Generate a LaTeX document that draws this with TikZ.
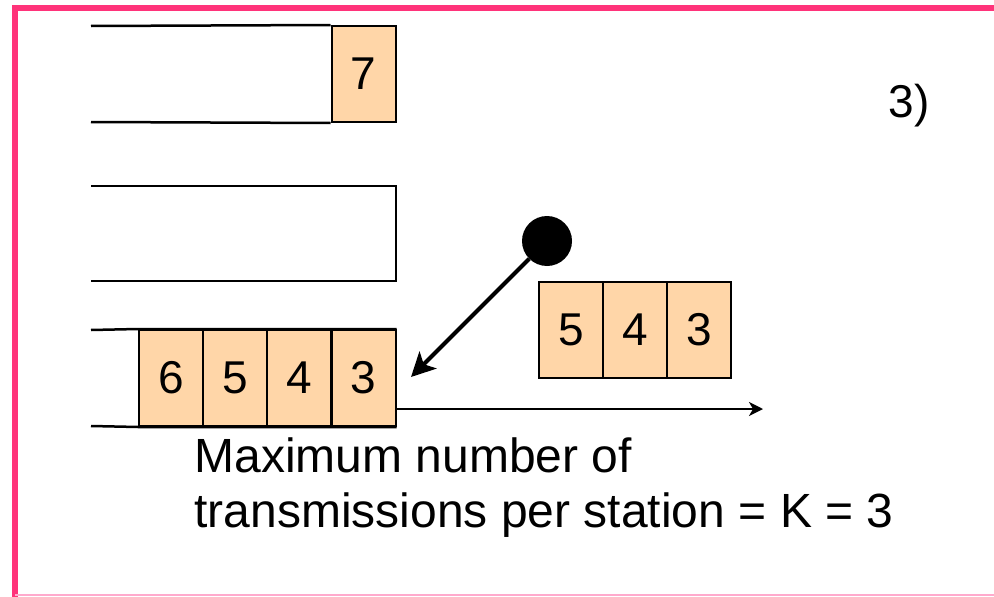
\documentclass[tikz,border=0pt]{standalone}
\usepackage{fontspec}
\setmainfont{Liberation Sans}
\usepackage{tikz}
\usetikzlibrary{arrows.meta}
\definecolor{framepink}{RGB}{255,51,122}
\definecolor{lightpink}{RGB}{255,170,205}
\definecolor{slotfill}{RGB}{255,214,168}

\begin{document}
\begin{tikzpicture}[x=1pt,y=-1pt,
  cell/.style={draw,fill=slotfill,line width=2pt,minimum width=64pt,minimum height=96pt,inner sep=0pt,font=\fontsize{46}{55}\selectfont},
  queue/.style={line width=2.5pt},
  big text/.style={font=\fontsize{48}{55}\selectfont}]

\useasboundingbox (0,0) rectangle (994,597);

% frame
\draw[framepink,line width=6pt] (15,600) -- (15,8) -- (1000,8);
\draw[lightpink,line width=2pt] (15,595) -- (994,595);

% first station: one packet waiting
\node at (363.5,74) [cell] (c7) {7};
\draw[queue] (91,26) -- (c7.north west) (91,122) -- (c7.south west);

% second station: empty queue
\draw[queue] (91,186) -- (396,186) -- (396,281) -- (91,281);

% third station
\node at (171,378) [cell] (q6) {6};
\node at (235,378) [cell] (q5) {5};
\node at (299,378) [cell] (q4) {4};
\node at (363.5,378) [cell] (q3) {3};
\draw[queue] (91,330) -- (q6.north west) (91,426) -- (q6.south west)
      (q6.north west) -- (q3.north east) (q6.south west) -- (q3.south east);

% packets re-inserted
\node at (571,330) [cell] (r5) {5};
\node at (635,330) [cell] (r4) {4};
\node at (699,330) [cell] (r3) {3};

\node at (547,241) [circle,fill=black,minimum size=50pt,inner sep=0pt] (dot) {};
\coordinate (tip) at (411,377);
\draw[line width=4pt,-{Stealth[length=24pt,width=24pt,inset=6pt]}] (dot) -- (tip);

% time axis
\coordinate (t0) at (397,409);
\coordinate (t1) at (763,409);
\draw[line width=2pt,-{Stealth[length=14pt,width=14pt,inset=4pt]}] (t0) -- (t1);

\node at (885,117) [anchor=base west,font=\fontsize{46}{55}\selectfont] (label) {3)};
\node at (191,527) [anchor=base west,align=left,big text] (note)
  {Maximum number of\\transmissions per station = K = 3};

\end{tikzpicture}
\end{document}
